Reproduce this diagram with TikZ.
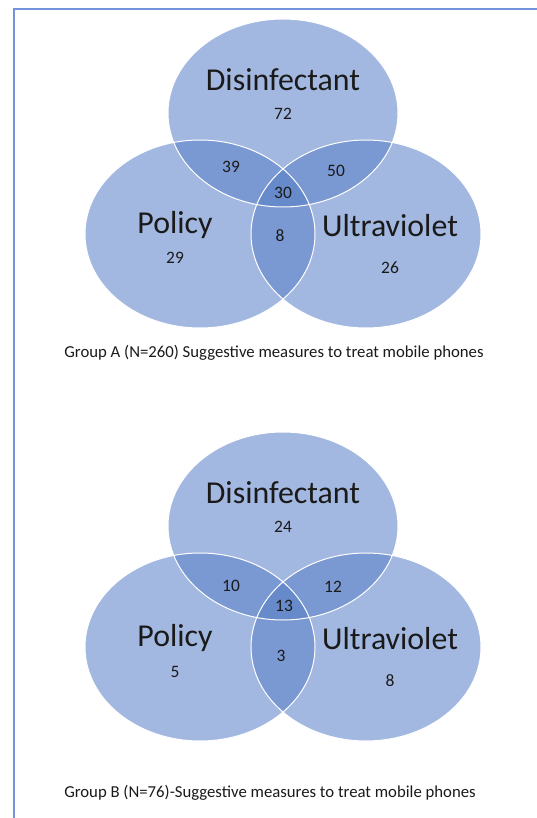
\documentclass[tikz,border=0pt]{standalone}
\usepackage{fontspec}
\setmainfont{Carlito}
\definecolor{vennblue}{HTML}{597FC7}
\definecolor{framecol}{HTML}{7393DC}
\definecolor{txt}{HTML}{1A1A1A}
\begin{document}
\begin{tikzpicture}[x=1bp,y=-1bp,
  setfill/.style={fill=vennblue,fill opacity=0.55,draw=none},
  setedge/.style={draw=white,line width=1bp},
  biglabel/.style={font=\fontsize{32}{32}\selectfont,text=txt,inner sep=0pt},
  numlabel/.style={font=\fontsize{17.5}{17.5}\selectfont,text=txt,inner sep=0pt},
  caption/.style={font=\fontsize{16.8}{16.8}\selectfont,text=txt,inner sep=0pt}]
\useasboundingbox (0,0) rectangle (537,818);
\fill[white] (0,0) rectangle (537,818);
% frame
\draw[framecol,line width=2bp] (14,818) coordinate (fbl) -- (14,9) coordinate (ftl) -- (537,9) coordinate (ftr);
% ---------- Group A ----------
\begin{scope}
\fill[setfill] (283,113) ellipse [x radius=115,y radius=94];
\fill[setfill] (200,234) ellipse [x radius=115,y radius=94];
\fill[setfill] (366,234) ellipse [x radius=115,y radius=94];
\draw[setedge] (283,113) ellipse [x radius=115,y radius=94];
\draw[setedge] (200,234) ellipse [x radius=115,y radius=94];
\draw[setedge] (366,234) ellipse [x radius=115,y radius=94];
\end{scope}
\node[biglabel] (aD) at (283,80) {Disinfectant};
\node[numlabel] (aD1) at (283,114) {72};
\node[numlabel] (aDP) at (231,167) {39};
\node[numlabel] (aDU) at (336,171) {50};
\node[numlabel] (aDPU) at (283,193) {30};
\node[biglabel] (aP) at (175,225) {Policy};
\node[numlabel] (aP1) at (175,258) {29};
\node[numlabel] (aPU) at (280,236) {8};
\node[biglabel] (aU) at (390,226) {Ultraviolet};
\node[numlabel] (aU1) at (390,268) {26};
\node[caption] (aCap) at (274,353) {Group A (N=260) Suggestive measures to treat mobile phones};
% ---------- Group B ----------
\begin{scope}
\fill[setfill] (283,526) ellipse [x radius=115,y radius=94];
\fill[setfill] (200,647) ellipse [x radius=115,y radius=94];
\fill[setfill] (366,647) ellipse [x radius=115,y radius=94];
\draw[setedge] (283,526) ellipse [x radius=115,y radius=94];
\draw[setedge] (200,647) ellipse [x radius=115,y radius=94];
\draw[setedge] (366,647) ellipse [x radius=115,y radius=94];
\end{scope}
\node[biglabel] (bD) at (283,493) {Disinfectant};
\node[numlabel] (bD1) at (283,527) {24};
\node[numlabel] (bDP) at (231,586) {10};
\node[numlabel] (bDU) at (333,587) {12};
\node[numlabel] (bDPU) at (284,606) {13};
\node[biglabel] (bP) at (175,638) {Policy};
\node[numlabel] (bP1) at (175,672) {5};
\node[numlabel] (bPU) at (281,656) {3};
\node[biglabel] (bU) at (390,639) {Ultraviolet};
\node[numlabel] (bU1) at (390,681) {8};
\node[caption] (bCap) at (270,793) {Group B (N=76)-Suggestive measures to treat mobile phones};
\end{tikzpicture}
\end{document}
